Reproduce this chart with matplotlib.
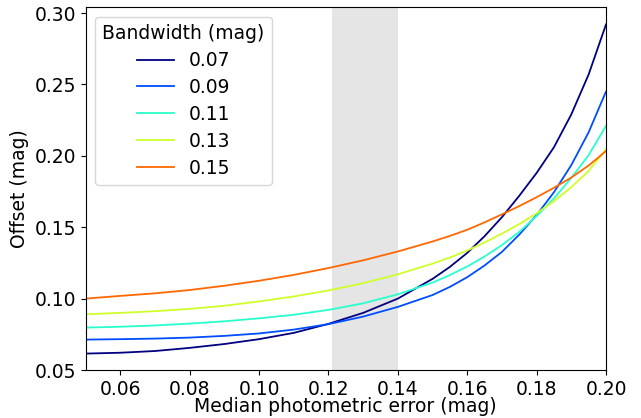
import numpy as np
import matplotlib
matplotlib.use("Agg")
import matplotlib.pyplot as plt

# median photometric error (mag)
err = [0.05, 0.06, 0.07, 0.08, 0.09, 0.10, 0.11, 0.12, 0.13, 0.14, 0.15, 0.155,
       0.16, 0.165, 0.17, 0.175, 0.18, 0.185, 0.19, 0.195, 0.20]

bandwidths = ["0.07", "0.09", "0.11", "0.13", "0.15"]

off_007 = [0.0615, 0.0621, 0.0633, 0.0655, 0.0682, 0.0716, 0.0760, 0.0823, 0.0900, 0.1000, 0.1138, 0.1222,
           0.1320, 0.1437, 0.1570, 0.1720, 0.1880, 0.2060, 0.2290, 0.2570, 0.2920]
off_009 = [0.0713, 0.0716, 0.0720, 0.0727, 0.0739, 0.0756, 0.0783, 0.0821, 0.0874, 0.0942, 0.1025, 0.1082,
           0.1150, 0.1232, 0.1327, 0.1448, 0.1585, 0.1745, 0.1935, 0.2165, 0.2450]
off_011 = [0.0797, 0.0803, 0.0812, 0.0825, 0.0841, 0.0862, 0.0887, 0.0921, 0.0967, 0.1030, 0.1112, 0.1165,
           0.1225, 0.1295, 0.1375, 0.1467, 0.1578, 0.1702, 0.1845, 0.2005, 0.2210]
off_013 = [0.0890, 0.0900, 0.0912, 0.0928, 0.0950, 0.0980, 0.1015, 0.1057, 0.1108, 0.1170, 0.1245, 0.1288,
           0.1337, 0.1393, 0.1455, 0.1522, 0.1597, 0.1683, 0.1780, 0.1895, 0.2045]
off_015 = [0.1000, 0.1019, 0.1037, 0.1060, 0.1090, 0.1125, 0.1166, 0.1214, 0.1268, 0.1330, 0.1400, 0.1439,
           0.1482, 0.1534, 0.1590, 0.1648, 0.1710, 0.1776, 0.1848, 0.1932, 0.2033]

offsets = [off_007, off_009, off_011, off_013, off_015]

# shaded error range
band_lo, band_hi = 0.121, 0.140

fig = plt.figure(figsize=(6.41, 4.18), dpi=100)
ax = fig.add_axes([0.1334, 0.1148, 0.812, 0.8677])

ax.axvspan(band_lo, band_hi, color="gray", alpha=0.2, lw=0)

colors = plt.cm.jet(np.linspace(0, 1, 6)[:-1])
for bw, y, c in zip(bandwidths, offsets, colors):
    ax.plot(err, y, color=c, lw=1.3, label=bw)

ax.set_xlim(0.05, 0.20)
ax.set_ylim(0.05, 0.304)
ax.set_xticks([0.06, 0.08, 0.10, 0.12, 0.14, 0.16, 0.18, 0.20])
ax.set_yticks([0.05, 0.10, 0.15, 0.20, 0.25, 0.30])
ax.tick_params(labelsize=13.5)
ax.set_xlabel("Median photometric error (mag)", fontsize=13.5, labelpad=-1)
ax.set_ylabel("Offset (mag)", fontsize=13.5)
ax.legend(title="Bandwidth (mag)", fontsize=13.5, title_fontsize=13.5,
          loc="upper left", labelspacing=0.42)

fig.savefig("out.png", dpi=100)
